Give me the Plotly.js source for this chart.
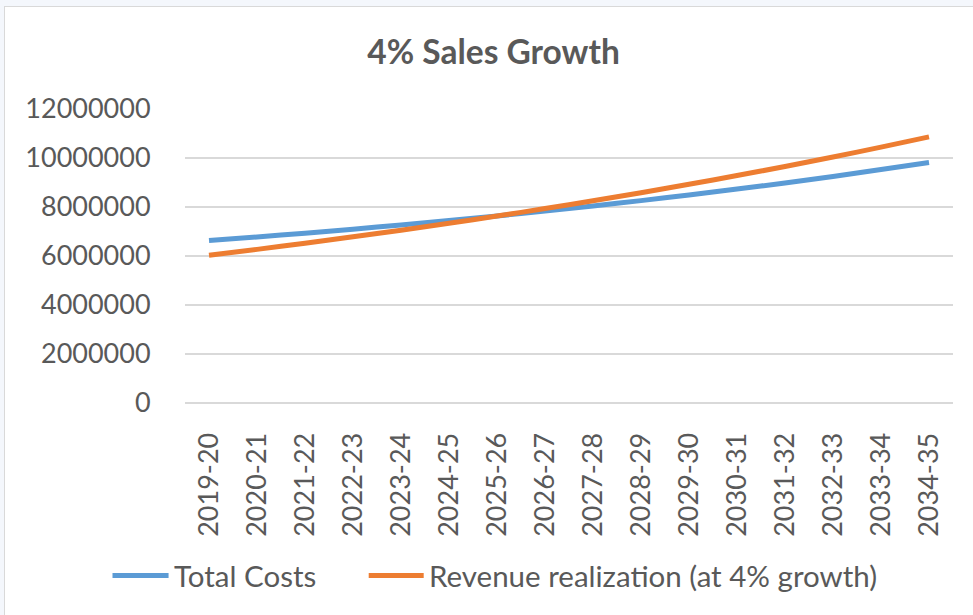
<!DOCTYPE html>
<html>
<head>
<meta charset="utf-8">
<script src="https://cdn.plot.ly/plotly-3.0.1.min.js"></script>
<style>
  html, body { margin: 0; padding: 0; width: 973px; height: 615px; overflow: hidden; background: #f4f7fc; }
  #chart { position: absolute; left: 4px; top: 6px; width: 968px; height: 608px;
           border-left: 1px solid #d9d9d9; border-top: 1px solid #d9d9d9; background: #ffffff; }
</style>
</head>
<body>
<div id="chart"></div>
<script>
const years = ["2019-20","2020-21","2021-22","2022-23","2023-24","2024-25","2025-26","2026-27",
               "2027-28","2028-29","2029-30","2030-31","2031-32","2032-33","2033-34","2034-35"];
const totalCosts = [6630000, 6778000, 6933000, 7096000, 7267000, 7447000, 7636000, 7834000,
                    8042000, 8260000, 8490000, 8731000, 8983000, 9249000, 9528000, 9820000];
const revenue = [6030000, 6271000, 6522000, 6783000, 7054000, 7336000, 7630000, 7935000,
                 8252000, 8583000, 8926000, 9283000, 9654000, 10040000, 10442000, 10860000];
const seriesNames = ["Total Costs", "Revenue realization (at 4% growth)"];
const seriesColors = ["#5b9bd5", "#ed7d31"];
const yTicks = [0, 2000000, 4000000, 6000000, 8000000, 10000000, 12000000];
const chartTitle = "4% Sales Growth";

const FONT = "Lato, 'Open Sans', sans-serif";
const TXT = "#595959";

const traces = [
  { x: years, y: totalCosts, name: seriesNames[0], type: "scatter", mode: "lines",
    line: { color: seriesColors[0], width: 5, shape: "spline", smoothing: 0.6 } },
  { x: years, y: revenue, name: seriesNames[1], type: "scatter", mode: "lines",
    line: { color: seriesColors[1], width: 5, shape: "spline", smoothing: 0.6 } }
];

const legY = -0.587;
const layout = {
  width: 968, height: 608,
  margin: { l: 180.3, r: 19.7, t: 102.3, b: 212.3, pad: 0 },
  paper_bgcolor: "#ffffff", plot_bgcolor: "#ffffff",
  showlegend: false,
  font: { family: FONT, color: TXT, size: 26 },
  title: { text: chartTitle, x: 0.5047, xanchor: "center", xref: "container",
           y: 1 - 45.5 / 608, yanchor: "middle", yref: "container",
           font: { family: FONT, size: 33.5, color: TXT, weight: "bold" } },
  xaxis: { type: "category", range: [-0.5, years.length - 0.5], tickangle: -90,
           showgrid: false, zeroline: false, showline: false,
           ticks: "outside", ticklen: 18, tickcolor: "rgba(0,0,0,0)",
           tickfont: { family: FONT, size: 27, color: TXT } },
  yaxis: { range: [0, 12000000], tickmode: "array", tickvals: yTicks,
           ticktext: yTicks.map(v => String(v)),
           showgrid: true, gridcolor: "#d9d9d9", gridwidth: 1.3,
           zeroline: true, zerolinecolor: "#d9d9d9", zerolinewidth: 1.3, showline: false,
           ticks: "outside", ticklen: 28, tickcolor: "rgba(0,0,0,0)",
           tickfont: { family: FONT, size: 27, color: TXT } },
  shapes: [
    { type: "line", xref: "paper", yref: "paper", x0: -0.0944, x1: -0.0214, y0: legY, y1: legY,
      line: { color: seriesColors[0], width: 5 } },
    { type: "line", xref: "paper", yref: "paper", x0: 0.2392, x1: 0.3108, y0: legY, y1: legY,
      line: { color: seriesColors[1], width: 5 } }
  ],
  annotations: [
    { xref: "paper", yref: "paper", x: -0.0175, y: legY, xanchor: "left", yanchor: "middle",
      text: seriesNames[0], showarrow: false, font: { family: FONT, size: 29.5, color: TXT } },
    { xref: "paper", yref: "paper", x: 0.3145, y: legY, xanchor: "left", yanchor: "middle",
      text: seriesNames[1], showarrow: false, font: { family: FONT, size: 29.5, color: TXT } }
  ]
};

Plotly.newPlot("chart", traces, layout, { displayModeBar: false, staticPlot: true });
</script>
</body>
</html>
